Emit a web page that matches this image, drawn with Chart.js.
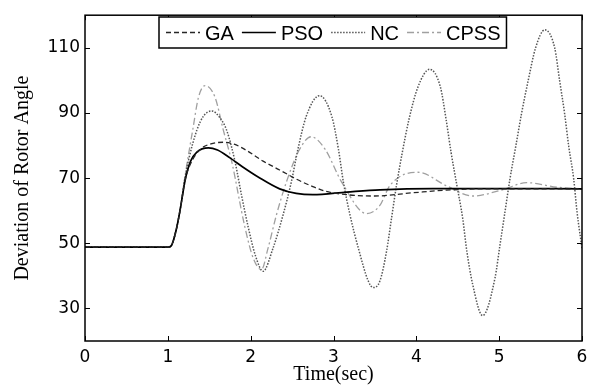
<!DOCTYPE html>
<html><head><meta charset="utf-8">
<script src="https://cdn.jsdelivr.net/npm/chart.js@4/dist/chart.umd.min.js"></script>
<style>html,body{margin:0;padding:0;background:#fff;}</style>
</head><body>
<canvas id="c" width="605" height="388"></canvas>
<script>
// ---- data ----
const xTicks = [0, 1, 2, 3, 4, 5, 6];
const yTicks = [30, 50, 70, 90, 110];
const xTitle = 'Time(sec)';
const yTitle = 'Deviation of Rotor Angle';

const gaTime   = [0, 1.0, 1.04, 1.1, 1.15, 1.21, 1.29, 1.4, 1.52, 1.67, 1.8, 1.95, 2.15, 2.35, 2.55, 2.75, 2.91, 3.16, 3.5, 3.96, 4.36, 4.8, 6.0];
const gaValues = [48.8, 48.8, 49.2, 54, 60.5, 69.5, 75.2, 79, 80.5, 81, 80.4, 78.5, 75.2, 72.5, 69.7, 67.4, 65.9, 64.9, 64.5, 65.5, 66.3, 66.7, 66.7];

const psoTime   = [0, 1.0, 1.04, 1.1, 1.15, 1.21, 1.275, 1.35, 1.49, 1.6, 1.75, 1.9, 2.1, 2.35, 2.55, 2.75, 3.16, 3.56, 4.2, 5.0, 6.0];
const psoValues = [48.8, 48.8, 49.2, 54, 60.5, 69.5, 75.2, 78, 79.3, 78.6, 76.2, 73.5, 70.2, 66.7, 65.3, 64.9, 65.7, 66.4, 66.8, 66.8, 66.7];

const ncTime   = [0, 1.0, 1.04, 1.1, 1.15, 1.21, 1.25, 1.35, 1.43, 1.53, 1.63, 1.71, 1.81, 1.89, 1.97, 2.06, 2.15, 2.27, 2.39, 2.49, 2.57, 2.67, 2.83, 2.98, 3.06, 3.12, 3.2, 3.3, 3.42, 3.48, 3.56, 3.64, 3.7, 3.76, 3.83, 3.91, 4.02, 4.16, 4.29, 4.36, 4.42, 4.49, 4.56, 4.61, 4.68, 4.8, 4.95, 5.01, 5.07, 5.13, 5.2, 5.27, 5.35, 5.44, 5.55, 5.67, 5.73, 5.79, 5.84, 5.9, 5.94, 6.0];
const ncValues = [48.8, 48.8, 49.2, 54, 60.5, 70.5, 75.5, 84.7, 89, 90.6, 88.5, 84.7, 75.2, 64.7, 55, 46, 41.4, 48.5, 58.6, 68.7, 78.8, 88.9, 95.3, 88.9, 78.8, 68.7, 58.6, 48.5, 38.4, 36.4, 38.4, 47.5, 57.6, 67.7, 77.8, 87.9, 98, 103.4, 98, 87.9, 77.8, 67.7, 57.6, 47.5, 37.4, 27.8, 39.4, 49.5, 59.6, 69.7, 79.7, 89.8, 99.9, 110, 115.5, 110, 99.9, 89.8, 79.7, 69.7, 59.6, 48.5];

const cpssTime   = [0, 1.0, 1.04, 1.1, 1.15, 1.21, 1.3, 1.37, 1.45, 1.57, 1.67, 1.77, 1.93, 2.03, 2.13, 2.21, 2.31, 2.43, 2.59, 2.73, 2.9, 3.1, 3.4, 3.56, 3.68, 4.02, 4.36, 4.68, 5.05, 5.33, 5.7, 6.0];
const cpssValues = [48.8, 48.8, 49.2, 54, 60.5, 71, 84.7, 94.8, 98.4, 94.8, 84.7, 75.2, 55, 45.5, 41.9, 48.5, 58.6, 68.7, 78.8, 82.7, 78.8, 68.7, 59.1, 61.6, 67.7, 71.8, 67.7, 64.5, 66.5, 68.6, 67.2, 66.6];

const pts = (ts, vs) => ts.map((t, i) => ({x: t, y: vs[i]}));

const framePlugin = {
  id: 'frame',
  afterDatasetsDraw(chart) {
    const {ctx, chartArea: a, scales: {x, y}} = chart;
    ctx.save();
    ctx.strokeStyle = '#000';
    ctx.lineWidth = 1;
    ctx.beginPath();
    x.ticks.forEach(t => {
      const p = Math.round(x.getPixelForValue(t.value)) + 0.5;
      ctx.moveTo(p, a.bottom); ctx.lineTo(p, a.bottom - 5);
      ctx.moveTo(p, a.top); ctx.lineTo(p, a.top + 5);
    });
    y.ticks.forEach(t => {
      const p = Math.round(y.getPixelForValue(t.value)) + 0.5;
      ctx.moveTo(a.left, p); ctx.lineTo(a.left + 5, p);
      ctx.moveTo(a.right, p); ctx.lineTo(a.right - 5, p);
    });
    ctx.stroke();
    ctx.lineWidth = 1.5;
    ctx.strokeRect(a.left, a.top, a.right - a.left, a.bottom - a.top);
    ctx.restore();
  }
};

const legendPlugin = {
  id: 'boxLegend',
  afterDraw(chart) {
    const {ctx, chartArea: a} = chart;
    const font = '20px "Liberation Sans", Arial, sans-serif';
    ctx.save();
    ctx.font = font;
    const lineLen = 34, gapText = 5, gapItem = 8, padL = 7, padR = 6;
    const items = chart.data.datasets.map(ds => ({ds, w: ctx.measureText(ds.label).width}));
    let total = padL + padR;
    items.forEach((it, i) => { total += lineLen + gapText + it.w + (i < items.length - 1 ? gapItem : 0); });
    const cx = (a.left + a.right) / 2 - 1;
    const left = Math.round(cx - total / 2);
    const top = 17, h = 31;
    ctx.fillStyle = '#fff';
    ctx.fillRect(left, top, total, h);
    ctx.strokeStyle = '#000';
    ctx.lineWidth = 1.5;
    ctx.strokeRect(left, top, total, h);
    let xx = left + padL;
    const ly = top + h / 2;
    items.forEach(it => {
      ctx.beginPath();
      ctx.strokeStyle = it.ds.borderColor;
      ctx.lineWidth = it.ds.borderWidth;
      ctx.setLineDash(it.ds.borderDash || []);
      ctx.moveTo(xx, ly); ctx.lineTo(xx + lineLen, ly);
      ctx.stroke();
      ctx.setLineDash([]);
      xx += lineLen + gapText;
      ctx.fillStyle = '#000';
      ctx.textBaseline = 'alphabetic';
      ctx.fillText(it.ds.label, xx, top + 22.5);
      xx += it.w + gapItem;
    });
    ctx.restore();
  }
};

new Chart(document.getElementById('c'), {
  type: 'line',
  data: {
    datasets: [
      {label: 'GA', data: pts(gaTime, gaValues), borderColor: '#262626', borderWidth: 1.3, borderDash: [5, 3]},
      {label: 'PSO', data: pts(psoTime, psoValues), borderColor: '#000000', borderWidth: 1.7, borderDash: []},
      {label: 'NC', data: pts(ncTime, ncValues), borderColor: '#555555', borderWidth: 1.5, borderDash: [1.5, 1.5]},
      {label: 'CPSS', data: pts(cpssTime, cpssValues), borderColor: '#a0a0a0', borderWidth: 1.3, borderDash: [7, 3, 2, 3]}
    ]
  },
  options: {
    responsive: false,
    animation: false,
    devicePixelRatio: 1,
    layout: {padding: {left: 0, right: 23, top: 10, bottom: 0}},
    elements: {
      point: {radius: 0, hoverRadius: 0},
      line: {cubicInterpolationMode: 'monotone', fill: false}
    },
    plugins: {legend: {display: false}, tooltip: {enabled: false}, title: {display: false}},
    scales: {
      x: {
        type: 'linear', min: 0, max: 6,
        afterBuildTicks: s => { s.ticks = xTicks.map(v => ({value: v})); },
        afterFit: s => { s.height = 47; },
        grid: {display: false, drawTicks: false},
        border: {display: false},
        ticks: {font: {family: 'DejaVu Sans', size: 17}, color: '#000', padding: 6, maxRotation: 0, autoSkip: false},
        title: {display: true, text: xTitle, color: '#000', font: {family: 'Liberation Serif', size: 20}, padding: {top: 0, bottom: 1}}
      },
      y: {
        type: 'linear', min: 20, max: 120,
        afterBuildTicks: s => { s.ticks = yTicks.map(v => ({value: v})); },
        afterFit: s => { s.width = 85; },
        grid: {display: false, drawTicks: false},
        border: {display: false},
        ticks: {font: {family: 'DejaVu Sans', size: 17}, color: '#000', padding: 5},
        title: {display: true, text: yTitle, color: '#000', font: {family: 'Liberation Serif', size: 20}, padding: {top: 11, bottom: 0}}
      }
    }
  },
  plugins: [framePlugin, legendPlugin]
});
</script>
</body></html>
